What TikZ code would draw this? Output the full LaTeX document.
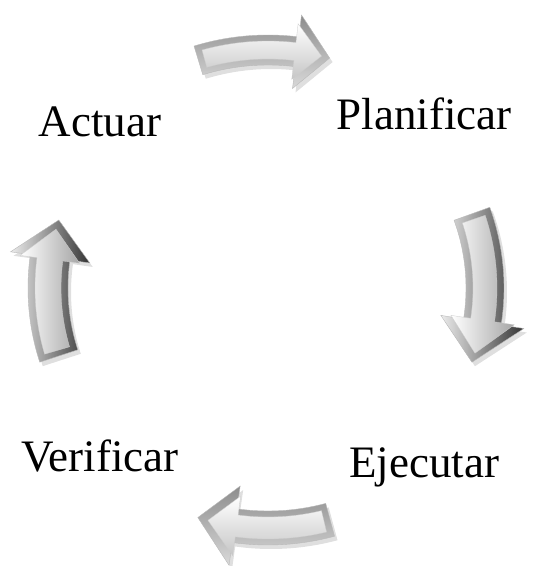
\documentclass[tikz,border=0pt]{standalone}
\usepackage{fontspec}
\setmainfont{Liberation Serif}
\usetikzlibrary{calc, shadows}

% flecha curva alrededor de (centro): radio, ang. cola, ang. punta, medio ancho, media cabeza, estilo, largo cabeza (grados)
\newcommand{\flechacurva}[7]{%
  \pgfmathsetmacro\angbase{#3+#7}%
  \path[#6] ($(centro)+({#2}:{#1+#4})$)
    arc[start angle=#2, end angle=\angbase, radius=#1+#4]
    -- ($(centro)+({\angbase}:{#1+#5})$)
    -- ($(centro)+({#3}:{#1})$)
    -- ($(centro)+({\angbase}:{#1-#5})$)
    -- ($(centro)+({\angbase}:{#1-#4})$)
    arc[start angle=\angbase, end angle=#2, radius=#1-#4]
    -- cycle;}

\begin{document}
\begin{tikzpicture}[
  x=1pt, y=1pt,
  etapa/.style={font=\fontsize{45}{50}\selectfont, inner sep=0pt, anchor=base},
  bisel/.style={draw=gray!55, line width=0.4pt,
                drop shadow={shadow xshift=3pt, shadow yshift=-4pt, opacity=0.25}},
  caraH/.style={draw=gray!40, line width=0.3pt, top color=white, bottom color=gray!45},
  biselH/.style={bisel, top color=gray!90, bottom color=gray!30},
  caraV/.style={draw=gray!40, line width=0.3pt, left color=white, right color=gray!70},
  biselV/.style={bisel, left color=gray!15, right color=black!80}
]
\useasboundingbox (0,0) rectangle (535,566);

\coordinate (centro) at (268,278);

%% ——— Etapas del ciclo ———
\node[etapa] (actuar)     at (100,429) {Actuar};
\node[etapa] (planificar) at (424,436) {Planificar};
\node[etapa] (ejecutar)   at (424,88)  {Ejecutar};
\node[etapa] (verificar)  at (100,94)  {Verificar};

%% ——— Actuar -> Planificar ———
\flechacurva{238}{107}{75}{15}{37}{biselH}{8}
\flechacurva{238}{105.5}{77}{9}{28}{caraH}{6.5}

%% ——— Planificar -> Ejecutar ———
\flechacurva{217}{20}{-20}{19}{42}{biselV}{11}
\flechacurva{217}{18.5}{-17.5}{12}{32}{caraV}{9}

%% ——— Ejecutar -> Verificar ———
\flechacurva{240}{-75}{-107}{17}{40}{biselH}{9}
\flechacurva{240}{-76.5}{-104.5}{11}{30}{caraH}{7}

%% ——— Verificar -> Actuar ———
\flechacurva{220}{198}{162}{20}{40}{biselV}{10}
\flechacurva{220}{196.5}{164.5}{13}{30}{caraV}{8}

\end{tikzpicture}
\end{document}
